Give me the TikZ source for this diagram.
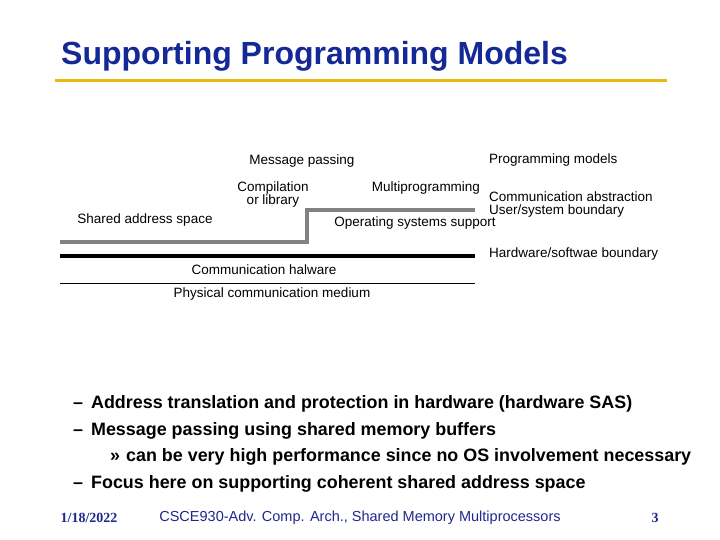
\documentclass[tikz,border=0pt]{standalone}
\usepackage{fontspec}
\setmainfont{Liberation Sans}
\newfontfamily\serifont{Liberation Serif}
\definecolor{ttl}{RGB}{20,40,150}
\definecolor{gold}{RGB}{235,185,20}
\definecolor{grayline}{RGB}{130,130,130}
\definecolor{foot}{RGB}{30,40,140}
\begin{document}
\begin{tikzpicture}[x=1pt,y=-1pt,
  lbl/.style={font=\fontsize{13.5}{14}\selectfont,inner sep=0pt,align=center},
  bul/.style={font=\bfseries\fontsize{17.9}{19}\selectfont,anchor=west,inner sep=0pt}]
\useasboundingbox (0,0) rectangle (720,540);
\node[anchor=west,inner sep=0pt,text=ttl,font=\bfseries\fontsize{32}{34}\selectfont] (title) at (61,56) {Supporting Programming Models};
\coordinate (ya) at (55,81); \coordinate (yb) at (667,81);
\draw[gold,line width=3pt] (ya) -- (yb);
% diagram lines
\coordinate (g1) at (60,242); \coordinate (g2) at (307,242);
\coordinate (g3) at (307,210); \coordinate (g4) at (475,210);
\draw[grayline,line width=3.5pt] (g1) -- (g2) -- (g3) -- (g4);
\coordinate (b1) at (60,256); \coordinate (b2) at (475,256);
\draw[black,line width=3.5pt] (b1) -- (b2);
\coordinate (t1) at (60,283); \coordinate (t2) at (475,283);
\draw[black,line width=0.7pt] (t1) -- (t2);
% labels
\node[lbl] (mp) at (302,161) {Message passing};
\node[lbl,anchor=west] (pm) at (489,160) {Programming models};
\node[lbl] (cl) at (273,195) {Compilation\\[-1pt]or library};
\node[lbl] (multi) at (426,188) {Multiprogramming};
\node[lbl,anchor=west] (ca) at (489,197) {Communication abstraction};
\node[lbl,anchor=west] (us) at (489,211) {User/system boundary};
\node[lbl] (sas) at (145,220) {Shared address space};
\node[lbl] (os) at (415,223) {Operating systems support};
\node[lbl,anchor=west] (hs) at (489,254) {Hardware/softwae boundary};
\node[lbl] (ch) at (264,270) {Communication halware};
\node[lbl] (pc) at (272,294) {Physical communication medium};
% bullets
\node[bul] (l1) at (73,404) {–\hspace{8pt}Address translation and protection in hardware (hardware SAS)};
\node[bul] (l2) at (73,431) {–\hspace{8pt}Message passing using shared memory buffers};
\node[bul] (l3) at (110,457) {»\hspace{6pt}can be very high performance since no OS involvement necessary};
\node[bul] (l4) at (73,484) {–\hspace{8pt}Focus here on supporting coherent shared address space};
% footer
\node[inner sep=0pt,text=foot,font=\serifont\bfseries\fontsize{14}{15}\selectfont] (date) at (89,518) {1/18/2022};
\node[inner sep=0pt,text=foot,font=\fontsize{14.5}{15}\selectfont] (ft) at (360,518) {CSCE930-Adv. Comp. Arch., Shared Memory Multiprocessors};
\node[inner sep=0pt,text=foot,font=\serifont\bfseries\fontsize{14}{15}\selectfont] (pg) at (655,518) {3};
\end{tikzpicture}
\end{document}
